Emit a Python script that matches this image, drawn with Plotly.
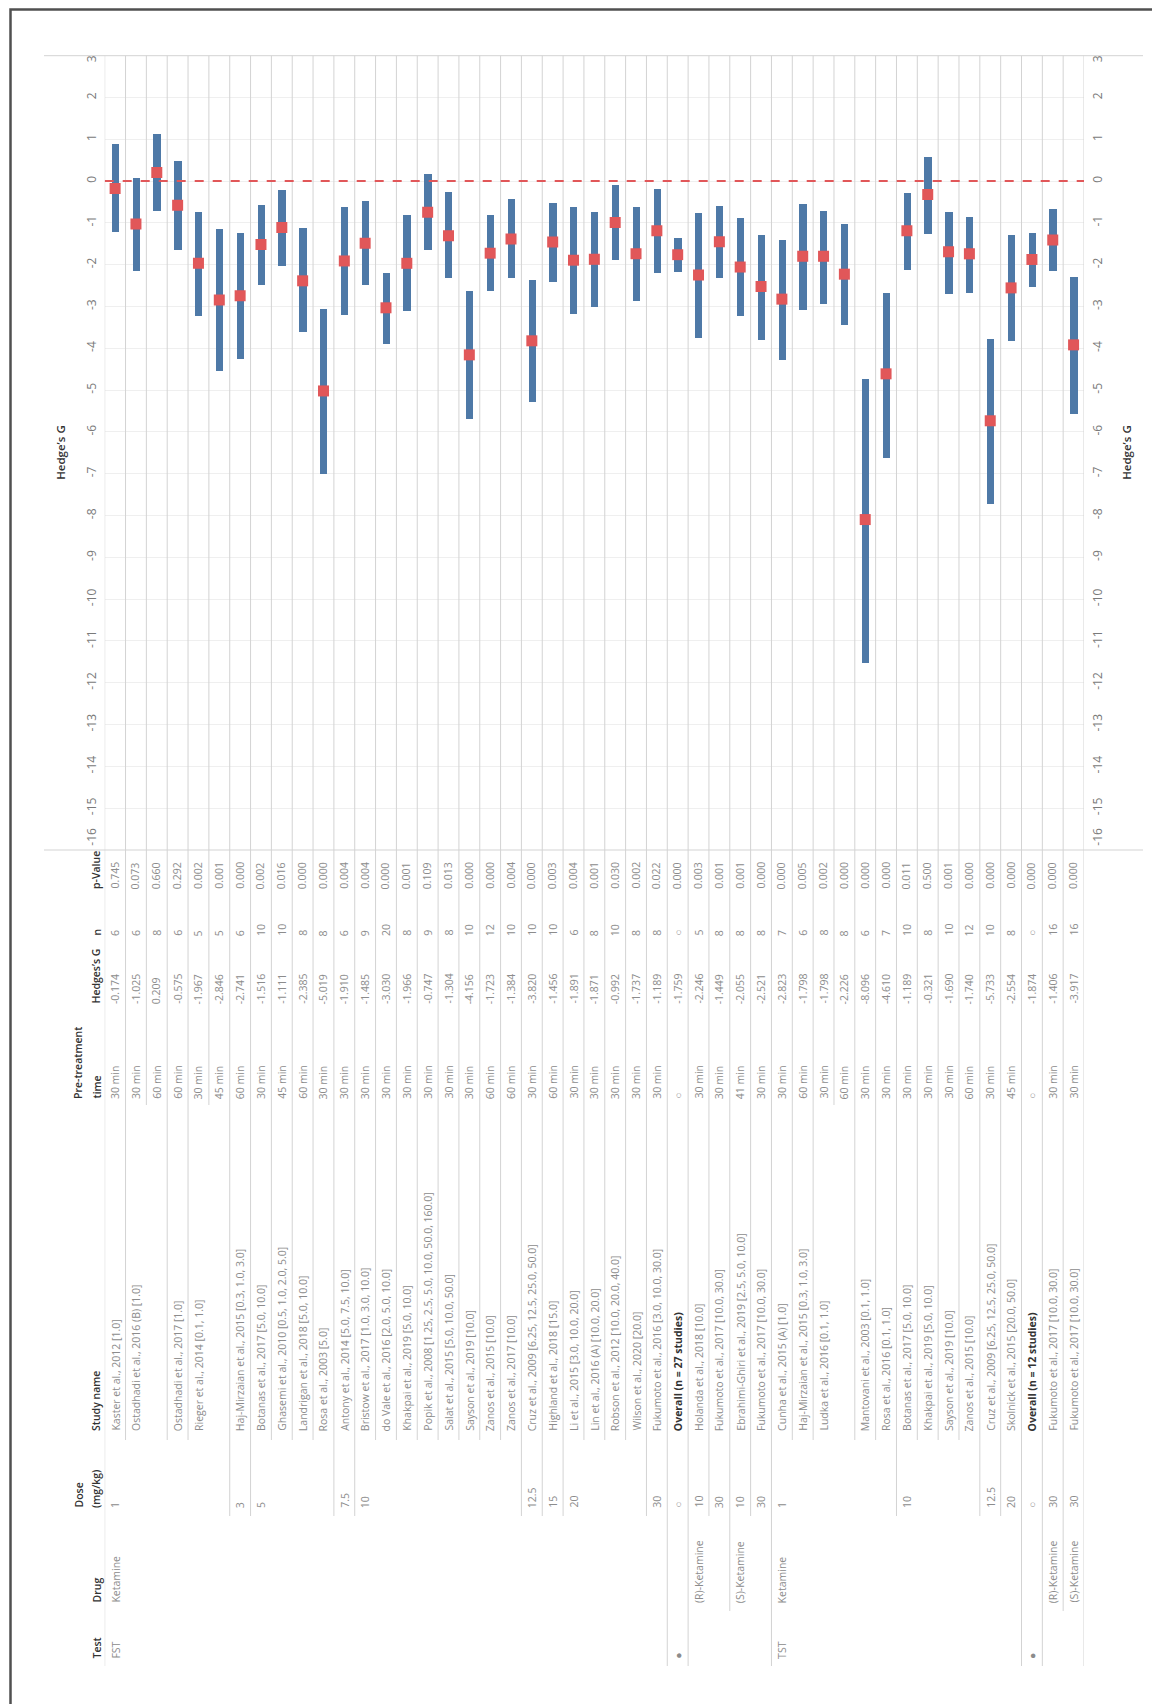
import plotly.graph_objects as go

W, H = 1160, 1704

# ---------------- data ----------------
rows = list(range(1, 48))

hedges_g = [-0.174, -1.025, 0.209, -0.575, -1.967, -2.846, -2.741, -1.516, -1.111, -2.385,
            -5.019, -1.910, -1.485, -3.030, -1.966, -0.747, -1.304, -4.156, -1.723, -1.384,
            -3.820, -1.456, -1.891, -1.871, -0.992, -1.737, -1.189, -1.759, -2.246, -1.449,
            -2.055, -2.521, -2.823, -1.798, -1.798, -2.226, -8.096, -4.610, -1.189, -0.321,
            -1.690, -1.740, -5.733, -2.554, -1.874, -1.406, -3.917]

ci_upper = [0.89, 0.09, 1.13, 0.49, -0.72, -1.15, -1.23, -0.56, -0.21, -1.12,
            -3.05, -0.61, -0.48, -2.18, -0.80, 0.17, -0.26, -2.62, -0.80, -0.43,
            -2.37, -0.51, -0.61, -0.72, -0.09, -0.62, -0.19, -1.36, -0.76, -0.59,
            -0.88, -1.27, -1.40, -0.55, -0.71, -1.03, -4.72, -2.68, -0.28, 0.59,
            -0.73, -0.85, -3.78, -1.28, -1.23, -0.66, -2.28]

ci_lower = [-1.22, -2.14, -0.70, -1.64, -3.21, -4.54, -4.25, -2.48, -2.02, -3.61,
            -6.99, -3.20, -2.48, -3.89, -3.11, -1.65, -2.32, -5.68, -2.62, -2.32,
            -5.27, -2.40, -3.16, -3.00, -1.88, -2.85, -2.20, -2.17, -3.74, -2.32,
            -3.22, -3.80, -4.26, -3.08, -2.94, -3.43, -11.53, -6.61, -2.12, -1.26,
            -2.69, -2.67, -7.72, -3.82, -2.52, -2.14, -5.56]

test_lbl = ["FST"] + [""] * 26 + ["●"] + [""] * 4 + ["TST"] + [""] * 11 + ["●", "", ""]

drug_lbl = (["Ketamine"] + [""] * 27 + ["(R)-Ketamine", "", "(S)-Ketamine", "",
            "Ketamine"] + [""] * 12 + ["(R)-Ketamine", "(S)-Ketamine"])

dose_lbl = ["1", "", "", "", "", "", "3", "5", "", "", "", "7.5", "10", "", "", "", "", "", "", "",
            "12.5", "15", "20", "", "", "", "30", "○", "10", "30", "10", "30", "1", "", "", "", "",
            "", "10", "", "", "", "12.5", "20", "○", "30", "30"]

study_lbl = [
    "Kaster et al., 2012 [1.0]",
    "Ostadhadi et al., 2016 (B) [1.0]",
    "",
    "Ostadhadi et al., 2017 [1.0]",
    "Rieger et al., 2014 [0.1, 1.0]",
    "",
    "Haj-Mirzaian et al., 2015 [0.3, 1.0, 3.0]",
    "Botanas et al., 2017 [5.0, 10.0]",
    "Ghasemi et al., 2010 [0.5, 1.0, 2.0, 5.0]",
    "Landrigan et al., 2018 [5.0, 10.0]",
    "Rosa et al., 2003 [5.0]",
    "Antony et al., 2014 [5.0, 7.5, 10.0]",
    "Bristow et al., 2017 [1.0, 3.0, 10.0]",
    "do Vale et al., 2016 [2.0, 5.0, 10.0]",
    "Khakpai et al., 2019 [5.0, 10.0]",
    "Popik et al., 2008 [1.25, 2.5, 5.0, 10.0, 50.0, 160.0]",
    "Salat et al., 2015 [5.0, 10.0, 50.0]",
    "Sayson et al., 2019 [10.0]",
    "Zanos et al., 2015 [10.0]",
    "Zanos et al., 2017 [10.0]",
    "Cruz et al., 2009 [6.25, 12.5, 25.0, 50.0]",
    "Highland et al., 2018 [15.0]",
    "Li et al., 2015 [3.0, 10.0, 20.0]",
    "Lin et al., 2016 (A) [10.0, 20.0]",
    "Robson et al., 2012 [10.0, 20.0, 40.0]",
    "Wilson et al., 2020 [20.0]",
    "Fukumoto et al., 2016 [3.0, 10.0, 30.0]",
    "Overall (n = 27 studies)",
    "Holanda et al., 2018 [10.0]",
    "Fukumoto et al., 2017 [10.0, 30.0]",
    "Ebrahimi-Ghiri et al., 2019 [2.5, 5.0, 10.0]",
    "Fukumoto et al., 2017 [10.0, 30.0]",
    "Cunha et al., 2015 (A) [1.0]",
    "Haj-Mirzaian et al., 2015 [0.3, 1.0, 3.0]",
    "Ludka et al., 2016 [0.1, 1.0]",
    "",
    "Mantovani et al., 2003 [0.1, 1.0]",
    "Rosa et al., 2016 [0.1, 1.0]",
    "Botanas et al., 2017 [5.0, 10.0]",
    "Khakpai et al., 2019 [5.0, 10.0]",
    "Sayson et al., 2019 [10.0]",
    "Zanos et al., 2015 [10.0]",
    "Cruz et al., 2009 [6.25, 12.5, 25.0, 50.0]",
    "Skolnick et al., 2015 [20.0, 50.0]",
    "Overall (n = 12 studies)",
    "Fukumoto et al., 2017 [10.0, 30.0]",
    "Fukumoto et al., 2017 [10.0, 30.0]",
]

pre_time = ["30 min", "30 min", "60 min", "60 min", "30 min", "45 min", "60 min", "30 min", "45 min",
            "60 min", "30 min", "30 min", "30 min", "30 min", "30 min", "30 min", "30 min", "30 min",
            "60 min", "60 min", "30 min", "60 min", "30 min", "30 min", "30 min", "30 min", "30 min",
            "○", "30 min", "30 min", "41 min", "30 min", "30 min", "60 min", "30 min", "60 min",
            "30 min", "30 min", "30 min", "30 min", "30 min", "60 min", "30 min", "45 min", "○",
            "30 min", "30 min"]

n_lbl = ["6", "6", "8", "6", "5", "5", "6", "10", "10", "8", "8", "6", "9", "20", "8", "9", "8", "10",
         "12", "10", "10", "10", "6", "8", "10", "8", "8", "○", "5", "8", "8", "8", "7", "6", "8", "8",
         "6", "7", "10", "8", "10", "12", "10", "8", "○", "16", "16"]

p_val = ["0.745", "0.073", "0.660", "0.292", "0.002", "0.001", "0.000", "0.002", "0.016", "0.000",
         "0.000", "0.004", "0.004", "0.000", "0.001", "0.109", "0.013", "0.000", "0.000", "0.004",
         "0.000", "0.003", "0.004", "0.001", "0.030", "0.002", "0.022", "0.000", "0.003", "0.001",
         "0.001", "0.000", "0.000", "0.005", "0.002", "0.000", "0.000", "0.000", "0.011", "0.500",
         "0.001", "0.000", "0.000", "0.000", "0.000", "0.000", "0.000"]

test_group = ["FST"] * 27 + ["Overall FST"] + ["FST"] * 4 + ["TST"] * 12 + ["Overall TST"] + ["TST"] * 2
drug_group = (["Ketamine"] * 27 + ["-"] + ["(R)-Ketamine"] * 2 + ["(S)-Ketamine"] * 2 +
              ["Ketamine"] * 12 + ["-"] + ["(R)-Ketamine", "(S)-Ketamine"])

tick_values = list(range(3, -17, -1))
tick_labels = [str(v) for v in tick_values]

# ---------------- layout constants (pixels) ----------------
FONT = "Open Sans"
BLUE = "#4e79a7"
RED = "#e15759"
GRID = "#d3d3d3"
VAL_COL = "#8c8c8c"
HEAD_COL = "#333333"

PL, PR, PT, PB = 96.7, 1076.0, 47.7, 842.0
Y_MIN, Y_MAX = -16, 3

# end labels are nudged inside the plot, as the original tool does
label_pos = [v - 0.12 if v == Y_MAX else (v + 0.27 if v == Y_MIN else v) for v in tick_values]


def fx(px):
    return px / W


def fy(py):
    return 1 - py / H


def ffill(lst):
    out, last = [], ""
    for v in lst:
        if v != "":
            last = v
        out.append(last)
    return out


dose_group = ffill(dose_lbl)
study_group = ffill(study_lbl)

fig = go.Figure()

fig.add_trace(go.Bar(
    x=rows, y=[u - l for u, l in zip(ci_upper, ci_lower)], base=ci_lower,
    width=0.35, marker=dict(color=BLUE, line=dict(width=0)), showlegend=False,
    hoverinfo="skip"))

fig.add_trace(go.Scatter(
    x=rows, y=hedges_g, mode="markers",
    marker=dict(symbol="square", size=11, color=RED, line=dict(width=0)),
    showlegend=False))

for ax in ("y2", "y3"):
    fig.add_trace(go.Scatter(
        x=rows, y=hedges_g, mode="markers", yaxis=ax,
        marker=dict(opacity=0), showlegend=False, hoverinfo="skip"))

shapes = []
# frame
shapes.append(dict(type="rect", xref="paper", yref="paper", x0=fx(2.5), x1=fx(1158), y0=fy(1702.5),
                   y1=fy(1.5), line=dict(color="#505050", width=2.5)))
# top and bottom plot lines (extended)
for yy in (PT, PB):
    shapes.append(dict(type="line", xref="paper", yref="paper", x0=fx(36), x1=fx(1135), y0=fy(yy),
                       y1=fy(yy), line=dict(color=GRID, width=1)))

# row dividers
col_end = {"test": 1658, "drug": 1603, "dose": 1508, "study": 1432, "time": 1097}
shapes.append(dict(type="line", xref="x", yref="paper", x0=0.5, x1=0.5, y0=fy(PT), y1=fy(1658),
                   line=dict(color=GRID, width=1)))
shapes.append(dict(type="line", xref="x", yref="paper", x0=47.5, x1=47.5, y0=fy(PT), y1=fy(1658),
                   line=dict(color=GRID, width=1)))
for i in range(len(rows) - 1):
    if test_group[i] != test_group[i + 1]:
        end = col_end["test"]
    elif drug_group[i] != drug_group[i + 1]:
        end = col_end["drug"]
    elif dose_group[i] != dose_group[i + 1]:
        end = col_end["dose"]
    elif study_group[i] != study_group[i + 1]:
        end = col_end["study"]
    else:
        end = col_end["time"]
    xb = rows[i] + 0.5
    shapes.append(dict(type="line", xref="x", yref="paper", x0=xb, x1=xb, y0=fy(PT), y1=fy(end),
                       line=dict(color=GRID, width=1)))

# zero reference line
shapes.append(dict(type="line", xref="x", yref="y", x0=0.5, x1=47.5, y0=0, y1=0,
                   line=dict(color=RED, width=2, dash="dash")))

annotations = []


def add_text(x, xref, ybottom, text, color=VAL_COL, size=10.5, weight="normal"):
    annotations.append(dict(
        x=x, xref=xref, y=fy(ybottom), yref="paper", text=text, showarrow=False,
        textangle=-90, xanchor="center", yanchor="bottom",
        font=dict(family=FONT, size=size, color=color, weight=weight)))


columns = [
    (p_val, 883),
    (n_lbl, 930),
    ([f"{v:.3f}" for v in hedges_g], 998),
    (pre_time, 1093),
    (study_lbl, 1425),
    (dose_lbl, 1502),
    (drug_lbl, 1597),
    (test_lbl, 1653),
]
for labels, yb in columns:
    for r, lab in zip(rows, labels):
        if lab == "":
            continue
        if lab.startswith("Overall"):
            add_text(r, "x", yb, lab, color=HEAD_COL, weight="bold")
        else:
            add_text(r, "x", yb, lab)

# headers
hx1, hx2 = fx(70), fx(88)
hs = 10.5
add_text(hx2, "paper", 883, "p-Value", HEAD_COL, hs, 600)
add_text(hx2, "paper", 930, "n", HEAD_COL, hs, 600)
add_text(hx2, "paper", 998, "Hedges’s G", HEAD_COL, hs, 600)
add_text(hx1, "paper", 1093, "Pre-treatment", HEAD_COL, hs, 600)
add_text(hx2, "paper", 1093, "time", HEAD_COL, hs, 600)
add_text(hx2, "paper", 1425, "Study name", HEAD_COL, hs, 600)
add_text(hx1, "paper", 1502, "Dose", HEAD_COL, hs, 600)
add_text(hx2, "paper", 1502, "(mg/kg)", HEAD_COL, hs, 600)
add_text(hx2, "paper", 1597, "Drug", HEAD_COL, hs, 600)
add_text(hx2, "paper", 1653, "Test", HEAD_COL, hs, 600)

# axis titles
for xt in (53, 1119):
    annotations.append(dict(
        x=fx(xt), xref="paper", y=fy((PT + PB) / 2), yref="paper", text="Hedge’s G",
        showarrow=False, textangle=-90, xanchor="center", yanchor="middle",
        font=dict(family=FONT, size=11.5, color=HEAD_COL, weight=600)))

label_axis = dict(
    range=[Y_MIN, Y_MAX], tickmode="array", tickvals=label_pos, ticktext=tick_labels,
    tickangle=-90, tickfont=dict(family=FONT, size=12, color="#7a7a7a"),
    showline=False, zeroline=False, ticks="", ticklabelstandoff=5, showgrid=False,
    ticklabeloverflow="allow", domain=[fy(PB), fy(PT)], fixedrange=True, overlaying="y")

fig.update_layout(
    width=W, height=H, margin=dict(l=0, r=0, t=0, b=0),
    paper_bgcolor="white", plot_bgcolor="white",
    xaxis=dict(range=[0.5, 47.5], domain=[fx(PL), fx(PR)], showticklabels=False,
               showgrid=False, zeroline=False, showline=False, ticks=""),
    yaxis=dict(range=[Y_MIN, Y_MAX], tickmode="array", tickvals=tick_values,
               showticklabels=False, ticks="", showline=False, zeroline=False,
               showgrid=True, gridcolor="#efefef", gridwidth=1,
               domain=[fy(PB), fy(PT)], fixedrange=True),
    yaxis2=dict(**label_axis, side="left"),
    yaxis3=dict(**label_axis, side="right"),
    shapes=shapes, annotations=annotations, bargap=0, showlegend=False,
)

fig.write_html("out.html")
